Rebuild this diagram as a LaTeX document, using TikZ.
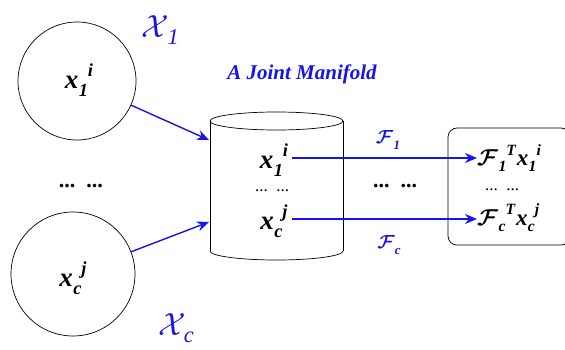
\RequirePackage{fix-cm}
\documentclass[tikz,border=0pt]{standalone}
\usepackage{fontspec}
\setmainfont{Liberation Serif}
\usepackage{amsmath}
\usetikzlibrary{arrows.meta}
\definecolor{myblue}{RGB}{20,20,235}
% variable with subscript and superscript: #1 base, #2 sub, #3 sup
\newcommand{\bv}[3]{{\bfseries\itshape #1\kern0.3pt\raisebox{-0.28em}{\fontsize{0.68em}{1em}\selectfont #2}\raisebox{0.45em}{\fontsize{0.68em}{1em}\selectfont #3}}}
\newcommand{\cF}{{\boldmath$\mathcal{F}$}}
\newcommand{\cX}{$\mathcal{X}$}
\tikzset{
  circ/.style={circle,draw,line width=0.7pt,minimum size=#1},
  varlab/.style={font=\fontsize{27}{30}\selectfont,inner sep=0pt},
  boxlab/.style={font=\fontsize{23}{26}\selectfont,inner sep=0pt},
  bluelab/.style={text=myblue,font=\fontsize{32}{34}\selectfont,inner sep=0pt},
  flab/.style={text=myblue,font=\fontsize{19}{22}\selectfont,inner sep=0pt},
  dotlab/.style={font=\fontsize{22}{24}\selectfont\bfseries},
  smalldots/.style={font=\fontsize{17}{19}\selectfont},
  barrow/.style={draw=myblue,line width=1.4pt,-{Stealth[length=12pt,width=10pt]}},
}
\begin{document}
\begin{tikzpicture}[x=1pt,y=-1pt]
\useasboundingbox (0,0) rectangle (565,350);
% circles
\node[circ=118pt] (c1) at (77,81) {};
\node[circ=124pt] (c2) at (73,274) {};
\node[varlab] (x1) at (79,80) {\bv{x}{1}{i}};
\node[varlab] (xc) at (73,278) {\bv{x}{c}{j}};
\node[bluelab] (X1) at (160,30) {\cX\kern-1pt\raisebox{-0.22em}{\fontsize{0.7em}{1em}\selectfont\itshape 1}};
\node[bluelab] (Xc) at (176,328) {\cX\kern-2pt\raisebox{-0.22em}{\fontsize{0.7em}{1em}\selectfont\itshape c}};
\node[dotlab] (d1) at (81,186) {...\,\,\,...};
% cylinder
\draw[line width=0.7pt] (210,121) -- (210,251);
\draw[line width=0.7pt] (343,121) -- (343,251);
\draw[line width=0.7pt] (276.5,121) ellipse [x radius=66.5, y radius=9];
\draw[line width=0.7pt] (210,251) arc[start angle=180,end angle=0,x radius=66.5,y radius=9];
\coordinate (cylL1) at (209,140);
\coordinate (cylL2) at (209,222);
\node[text=myblue,font=\fontsize{21}{24}\selectfont\itshape\bfseries] (jm) at (302,74) {A Joint Manifold};
\node[varlab] (y1) at (274,160) {\bv{x}{1}{i}};
\node[smalldots] (d2) at (272,191) {...\,\,\,...};
\node[varlab] (yc) at (274,221) {\bv{x}{c}{j}};
\node[dotlab] (d3) at (395,186) {...\,\,\,...};
% right box
\draw[line width=0.7pt,rounded corners=9pt] (448,128) rectangle (570,245);
\node[boxlab,anchor=west] (z1) at (477,158) {\bv{\cF}{1}{T}\kern1pt\bv{x}{1}{i}};
\node[smalldots] (d4) at (502,190) {...\,\,\,...};
\node[boxlab,anchor=west] (zc) at (477,218) {\bv{\cF}{c}{T}\kern1pt\bv{x}{c}{j}};
% arrows
\draw[barrow] (c1) -- (cylL1);
\draw[barrow] (c2) -- (cylL2);
\draw[barrow] (292,158) -- (z1.west |- 0,158);
\draw[barrow] (292,219) -- (zc.west |- 0,219);
\node[flab] (f1) at (388,140) {\bv{\cF}{1}{}};
\node[flab] (fc) at (389,245) {\bv{\cF}{c}{}};
\end{tikzpicture}
\end{document}
